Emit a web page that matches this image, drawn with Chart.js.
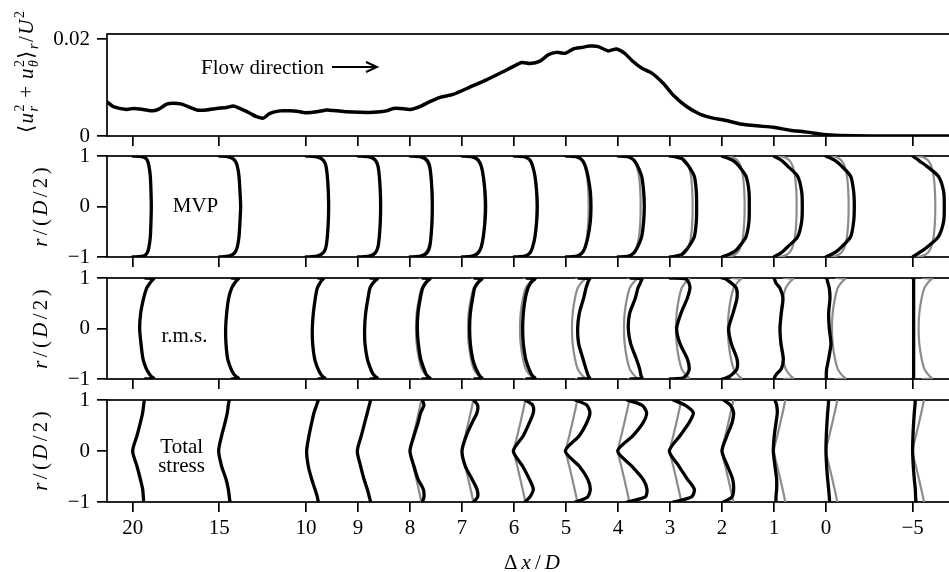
<!DOCTYPE html>
<html>
<head>
<meta charset="utf-8">
<script src="https://cdn.jsdelivr.net/npm/chart.js@4.4.1/dist/chart.umd.min.js"></script>
<style>
  html, body { margin: 0; padding: 0; background: #fff; overflow: hidden; }
  #wrap { position: relative; width: 949px; height: 572px; overflow: hidden; }
  canvas { position: absolute; left: 0; top: 0; }
</style>
</head>
<body>
<div id="wrap">
  <canvas id="c1" width="958" height="572"></canvas>
  <canvas id="c2" width="958" height="572"></canvas>
  <canvas id="c3" width="958" height="572"></canvas>
  <canvas id="c4" width="958" height="572"></canvas>
</div>
<script>
// x positions (Δx/D) of the ticks and of the profile stations
const X_TICKS = [20, 15, 10, 9, 8, 7, 6, 5, 4, 3, 2, 1, 0, -5];
const STATIONS = [20, 15, 10, 9, 8, 7, 6, 5, 4, 3, 2, 1, 0, -5];
const GREY_STATIONS = [8, 7, 6, 5, 4, 3, 2, 1, 0, -5];

// top panel: <u_r^2 + u_theta^2>_r / U^2
const TOP_DX = [21.5, 21.12, 20.35, 19.96, 19.39, 18.81, 18.42, 18.04, 17.65, 17.17, 16.69, 16.31, 15.73, 15.15,
  14.58, 14.19, 13.81, 13.23, 12.85, 12.46, 12.08, 11.5, 10.92, 10.35, 9.99, 9.79, 9.6, 9.41, 9.22, 8.96, 8.71,
  8.45, 8.32, 8.19, 8.0, 7.81, 7.62, 7.42, 7.17, 6.85, 6.53, 6.21, 6.01, 5.85, 5.69, 5.5, 5.34, 5.18, 5.02, 4.86,
  4.7, 4.54, 4.38, 4.19, 4.03, 3.87, 3.71, 3.54, 3.35, 3.13, 2.94, 2.68, 2.42, 2.17, 1.91, 1.65, 1.33, 1.01, 0.69,
  0.37, 0.05, -0.81, -2.54, -4.46, -7.1];
const TOP_E = [0.0071, 0.0061, 0.0055, 0.0057, 0.0055, 0.0052, 0.0057, 0.0066, 0.0068, 0.0066, 0.0059, 0.0054,
  0.0054, 0.0057, 0.0059, 0.0062, 0.0057, 0.0047, 0.0040, 0.0037, 0.0047, 0.0052, 0.0052, 0.0050, 0.0048, 0.0050,
  0.0054, 0.0052, 0.0050, 0.0049, 0.0049, 0.0052, 0.0057, 0.0057, 0.0055, 0.0061, 0.0071, 0.0080, 0.0086, 0.0101,
  0.0116, 0.0133, 0.0144, 0.0152, 0.0150, 0.0155, 0.0168, 0.0173, 0.0171, 0.0180, 0.0183, 0.0186, 0.0185, 0.0176,
  0.0180, 0.0171, 0.0154, 0.0140, 0.0130, 0.0109, 0.0085, 0.0061, 0.0045, 0.0037, 0.0032, 0.0025, 0.0021, 0.0018,
  0.0012, 0.0008, 0.0003, 0.0001, 0, 0, 0];
const TOP_Y_TICKS = [0, 0.02];
const TOP_Y_LABELS = ['0', '0.02'];

// radial positions r/(D/2)
const R_PROFILE = [1, 0.985, 0.95, 0.9, 0.8, 0.6, 0.3, 0, -0.3, -0.6, -0.8, -0.9, -0.95, -0.985, -1];
const R_STRESS = [1, 0.9, 0.75, 0.55, 0.3, 0, -0.3, -0.55, -0.75, -0.9, -1];
const R_TICKS = [-1, 0, 1];

// mean velocity profiles, one row per station
const MVP_REF = [0, 0.26, 0.39, 0.48, 0.56, 0.63, 0.67, 0.68, 0.67, 0.63, 0.56, 0.48, 0.39, 0.26, 0];
const MVP = [
  [0, 0.30, 0.40, 0.45, 0.49, 0.53, 0.55, 0.56, 0.55, 0.53, 0.49, 0.45, 0.40, 0.30, 0],
  [0, 0.27, 0.40, 0.48, 0.54, 0.59, 0.62, 0.64, 0.62, 0.59, 0.54, 0.48, 0.40, 0.27, 0],
  [0, 0.32, 0.45, 0.54, 0.60, 0.64, 0.67, 0.68, 0.67, 0.64, 0.60, 0.54, 0.45, 0.32, 0],
  [0, 0.33, 0.46, 0.54, 0.60, 0.64, 0.67, 0.68, 0.67, 0.64, 0.60, 0.54, 0.46, 0.33, 0],
  [0, 0.32, 0.45, 0.53, 0.59, 0.63, 0.66, 0.67, 0.66, 0.63, 0.59, 0.53, 0.45, 0.32, 0],
  [0, 0.30, 0.43, 0.51, 0.58, 0.64, 0.69, 0.71, 0.69, 0.64, 0.58, 0.51, 0.43, 0.30, 0],
  [0, 0.33, 0.43, 0.50, 0.56, 0.63, 0.68, 0.70, 0.68, 0.63, 0.56, 0.50, 0.43, 0.33, 0],
  [0, 0.33, 0.43, 0.51, 0.58, 0.66, 0.73, 0.75, 0.73, 0.66, 0.58, 0.51, 0.43, 0.33, 0],
  [0, 0.32, 0.42, 0.50, 0.59, 0.71, 0.77, 0.79, 0.77, 0.71, 0.59, 0.50, 0.42, 0.32, 0],
  [0, 0.15, 0.35, 0.43, 0.56, 0.73, 0.79, 0.80, 0.79, 0.73, 0.56, 0.43, 0.35, 0.15, 0],
  [0, 0.05, 0.20, 0.36, 0.51, 0.72, 0.81, 0.82, 0.81, 0.72, 0.51, 0.36, 0.20, 0.05, 0],
  [0, 0.03, 0.13, 0.25, 0.41, 0.71, 0.83, 0.85, 0.83, 0.71, 0.41, 0.25, 0.13, 0.03, 0],
  [0, 0.04, 0.16, 0.30, 0.47, 0.74, 0.83, 0.85, 0.83, 0.74, 0.47, 0.30, 0.16, 0.04, 0],
  [0, 0.03, 0.11, 0.21, 0.42, 0.77, 0.93, 0.95, 0.93, 0.77, 0.44, 0.23, 0.12, 0.03, 0]
];

// r.m.s. profiles
const RMS_REF = [0.3, 0.58, 0.52, 0.45, 0.35, 0.27, 0.20, 0.18, 0.20, 0.27, 0.35, 0.45, 0.52, 0.58, 0.3];
const RMS = [
  [0.38, 0.63, 0.58, 0.52, 0.42, 0.33, 0.24, 0.21, 0.25, 0.31, 0.41, 0.50, 0.56, 0.63, 0.38],
  [0.38, 0.57, 0.52, 0.46, 0.37, 0.28, 0.22, 0.19, 0.20, 0.25, 0.35, 0.43, 0.50, 0.57, 0.38],
  [0.38, 0.52, 0.47, 0.42, 0.34, 0.28, 0.22, 0.19, 0.20, 0.26, 0.36, 0.44, 0.50, 0.57, 0.38],
  [0.38, 0.58, 0.52, 0.45, 0.36, 0.30, 0.23, 0.20, 0.21, 0.28, 0.38, 0.45, 0.52, 0.58, 0.38],
  [0.38, 0.60, 0.54, 0.47, 0.38, 0.31, 0.24, 0.22, 0.25, 0.32, 0.42, 0.48, 0.54, 0.60, 0.38],
  [0.38, 0.60, 0.54, 0.47, 0.38, 0.32, 0.25, 0.23, 0.25, 0.32, 0.42, 0.50, 0.55, 0.60, 0.38],
  [0.38, 0.63, 0.57, 0.50, 0.42, 0.34, 0.28, 0.26, 0.28, 0.35, 0.45, 0.52, 0.58, 0.63, 0.38],
  [0.38, 0.71, 0.68, 0.65, 0.60, 0.53, 0.40, 0.35, 0.38, 0.51, 0.60, 0.65, 0.68, 0.71, 0.38],
  [0.38, 0.72, 0.70, 0.67, 0.60, 0.52, 0.35, 0.31, 0.38, 0.55, 0.65, 0.68, 0.70, 0.72, 0.38],
  [0, 0.47, 0.52, 0.57, 0.60, 0.52, 0.33, 0.20, 0.30, 0.52, 0.58, 0.52, 0.45, 0.38, 0],
  [0, 0.10, 0.18, 0.28, 0.43, 0.45, 0.33, 0.20, 0.28, 0.45, 0.45, 0.32, 0.22, 0.10, 0],
  [0, 0.01, 0.03, 0.06, 0.18, 0.27, 0.22, 0.18, 0.21, 0.28, 0.22, 0.08, 0.03, 0.01, 0],
  [0, 0.03, 0.04, 0.06, 0.10, 0.12, 0.08, 0.10, 0.15, 0.08, 0.02, 0.01, 0.01, 0.01, 0],
  [0, 0.03, 0.03, 0.03, 0.03, 0.03, 0.03, 0.03, 0.03, 0.03, 0.03, 0.03, 0.03, 0.03, 0]
];

// total stress profiles
const TS_REF = [0.34, 0.31, 0.26, 0.19, 0.10, 0, 0.10, 0.19, 0.26, 0.31, 0.34];
const TS = [
  [0.35, 0.33, 0.30, 0.23, 0.13, 0, 0.13, 0.23, 0.30, 0.32, 0.33],
  [0.30, 0.27, 0.24, 0.17, 0.07, -0.02, 0.07, 0.20, 0.27, 0.30, 0.32],
  [0.37, 0.32, 0.24, 0.17, 0.09, 0.02, 0.07, 0.17, 0.27, 0.34, 0.37],
  [0.38, 0.34, 0.28, 0.20, 0.10, -0.02, 0.08, 0.18, 0.28, 0.34, 0.38],
  [0.37, 0.42, 0.32, 0.24, 0.12, 0, 0.12, 0.24, 0.40, 0.42, 0.37],
  [0.35, 0.47, 0.45, 0.30, 0.13, 0, 0.10, 0.30, 0.45, 0.47, 0.35],
  [0.33, 0.56, 0.58, 0.46, 0.28, -0.02, 0.26, 0.46, 0.58, 0.48, 0.33],
  [0.28, 0.62, 0.72, 0.62, 0.40, -0.02, 0.40, 0.65, 0.73, 0.65, 0.28],
  [0.27, 0.72, 0.86, 0.75, 0.45, -0.01, 0.42, 0.75, 0.87, 0.82, 0.27],
  [0.10, 0.45, 0.70, 0.57, 0.30, -0.02, 0.27, 0.52, 0.73, 0.65, 0.10],
  [0.05, 0.25, 0.35, 0.30, 0.15, 0, 0.17, 0.32, 0.35, 0.30, 0.05],
  [0.03, 0.08, 0.10, 0.06, 0.01, -0.02, 0.03, 0.08, 0.08, 0.06, 0.06],
  [0.08, 0.07, 0.05, 0.03, 0.01, 0, 0.02, 0.05, 0.08, 0.10, 0.11],
  [0.08, 0.07, 0.05, 0.03, 0.01, 0, 0.02, 0.05, 0.08, 0.09, 0.10]
];

const PROFILE_SCALE = 0.641;   // axis units per profile unit (profiles grow downstream, to the right)
const X_LEFT = 21.48, X_RIGHT = -7.56;
const SERIF = "'Liberation Serif', 'Times New Roman', serif";
const GREY = '#8c8c8c';
const AXIS_W = 1.7;

// the axis is compressed 3:1 outside 0..10
function toAxis(dx) {
  if (dx > 10) return 10 + (dx - 10) / 3;
  if (dx < 0) return dx / 3;
  return dx;
}
function fmt(v) { return v < 0 ? '\u2212' + Math.abs(v) : String(v); }
function fnt(size, it) { return (it ? 'italic ' : '') + size + 'px ' + SERIF; }

function partWidth(ctx, p) {
  if (p.sup != null || p.sub != null) {
    let w = 0;
    if (p.sup != null) { ctx.font = fnt(14, p.supIt); w = Math.max(w, ctx.measureText(p.sup).width); }
    if (p.sub != null) { ctx.font = fnt(14, p.subIt); w = Math.max(w, ctx.measureText(p.sub).width); }
    return w;
  }
  ctx.font = fnt(21, p.it);
  return ctx.measureText(p.t).width;
}
function drawRich(ctx, parts, x, y, gap, rotate) {
  ctx.save();
  ctx.translate(x, y);
  if (rotate) ctx.rotate(-Math.PI / 2);
  const widths = parts.map(p => partWidth(ctx, p));
  const total = widths.reduce((a, b) => a + b, 0) + gap * (parts.length - 1);
  let cx = -total / 2;
  ctx.fillStyle = '#000';
  ctx.textAlign = 'left';
  ctx.textBaseline = 'alphabetic';
  parts.forEach((p, i) => {
    if (p.sup != null || p.sub != null) {
      if (p.sup != null) { ctx.font = fnt(14, p.supIt); ctx.fillText(p.sup, cx, -9); }
      if (p.sub != null) { ctx.font = fnt(14, p.subIt); ctx.fillText(p.sub, cx, 5); }
    } else {
      ctx.font = fnt(21, p.it);
      ctx.fillText(p.t, cx, 0);
    }
    cx += widths[i] + gap;
  });
  ctx.restore();
}
function text(ctx, str, x, y, align) {
  ctx.save();
  ctx.font = fnt(21, false);
  ctx.fillStyle = '#000';
  ctx.textAlign = align || 'center';
  ctx.textBaseline = 'alphabetic';
  ctx.fillText(str, x, y);
  ctx.restore();
}

const R_LABEL = [{t: 'r', it: 1}, {t: '/'}, {t: '('}, {t: 'D', it: 1}, {t: '/'}, {t: '2'}, {t: ')'}];
const TOP_LABEL = [{t: '\u27E8'}, {t: 'u', it: 1}, {sup: '2', sub: 'r', subIt: 1}, {t: ' + '}, {t: 'u', it: 1},
  {sup: '2', sub: '\u03B8', subIt: 1}, {t: '\u27E9'}, {sub: 'r', subIt: 1}, {t: '/'}, {t: 'U', it: 1}, {sup: '2'}];

const framePlugin = {
  id: 'frame',
  beforeDatasetsDraw(chart) {
    const { ctx, chartArea: a } = chart;
    ctx.save();
    ctx.strokeStyle = '#000';
    ctx.lineWidth = AXIS_W;
    ctx.strokeRect(a.left, a.top, a.right - a.left, a.bottom - a.top);
    ctx.restore();
  }
};

function profileSets(rs, ref, rows) {
  const sets = [];
  STATIONS.forEach((st, k) => {
    const x0 = toAxis(st);
    if (GREY_STATIONS.includes(st)) {
      sets.push({
        data: rs.map((r, i) => ({ x: x0 - ref[i] * PROFILE_SCALE, y: r })),
        showLine: true, borderColor: GREY, borderWidth: 2.2, order: 1
      });
    }
    sets.push({
      data: rs.map((r, i) => ({ x: x0 - rows[k][i] * PROFILE_SCALE, y: r })),
      showLine: true, borderColor: '#000', borderWidth: 3.3, order: 0
    });
  });
  return sets;
}

function makeChart(id, top, bottom, datasets, yMin, yMax, yTicks, yLabels, showX, extra) {
  return new Chart(document.getElementById(id), {
    type: 'scatter',
    data: { datasets },
    options: {
      responsive: false,
      animation: false,
      devicePixelRatio: 1,
      layout: { padding: { top: top, right: 1, left: 0, bottom: 0 } },
      plugins: { legend: { display: false }, tooltip: { enabled: false } },
      elements: {
        point: { radius: 0 },
        line: { tension: 0.25, fill: false, borderCapStyle: 'round', borderJoinStyle: 'round' }
      },
      scales: {
        x: {
          type: 'linear', reverse: true, min: toAxis(X_RIGHT), max: toAxis(X_LEFT),
          afterBuildTicks: s => { s.ticks = X_TICKS.map(v => ({ value: toAxis(v) })); },
          afterFit: s => { s.height = 572 - bottom; },
          grid: { drawOnChartArea: false, drawTicks: true, tickLength: 10, color: '#000', lineWidth: AXIS_W },
          border: { display: false },
          ticks: {
            display: showX, padding: 4, color: '#000', autoSkip: false, maxRotation: 0,
            font: { family: SERIF, size: 21 },
            callback: (v, i) => fmt(X_TICKS[i])
          }
        },
        y: {
          type: 'linear', min: yMin, max: yMax,
          afterBuildTicks: s => { s.ticks = yTicks.map(v => ({ value: v })); },
          afterFit: s => { s.width = 107; },
          grid: { drawOnChartArea: false, drawTicks: true, tickLength: 10, color: '#000', lineWidth: AXIS_W },
          border: { display: false },
          ticks: {
            padding: 7, color: '#000', font: { family: SERIF, size: 21 },
            callback: (v, i) => yLabels[i]
          }
        }
      }
    },
    plugins: [framePlugin, { id: 'notes', afterDraw: chart => extra(chart.ctx, chart) }]
  });
}

const rLabels = R_TICKS.map(fmt);

makeChart('c1', 34, 136, [{
  data: TOP_DX.map((d, i) => ({ x: toAxis(d), y: TOP_E[i] })),
  showLine: true, borderColor: '#000', borderWidth: 3.5, tension: 0.2
}], 0, 0.0211, TOP_Y_TICKS, TOP_Y_LABELS, false, ctx => {
  drawRich(ctx, TOP_LABEL, 33, 72, 1.5, true);
  text(ctx, 'Flow direction', 201, 74, 'left');
  ctx.save();
  ctx.strokeStyle = '#000';
  ctx.lineWidth = 2;
  ctx.beginPath();
  ctx.moveTo(332, 67); ctx.lineTo(376, 67);
  ctx.moveTo(366, 62); ctx.lineTo(377, 67); ctx.lineTo(366, 72);
  ctx.stroke();
  ctx.restore();
});

makeChart('c2', 156, 257, profileSets(R_PROFILE, MVP_REF, MVP), -1, 1, R_TICKS, rLabels, false, ctx => {
  drawRich(ctx, R_LABEL, 47, 207, 3.3, true);
  text(ctx, 'MVP', 195.5, 212);
});

makeChart('c3', 278, 379, profileSets(R_PROFILE, RMS_REF, RMS), -1, 1, R_TICKS, rLabels, false, ctx => {
  drawRich(ctx, R_LABEL, 47, 329, 3.3, true);
  text(ctx, 'r.m.s.', 184.5, 342);
});

makeChart('c4', 400, 502, profileSets(R_STRESS, TS_REF, TS), -1, 1, R_TICKS, rLabels, true, ctx => {
  drawRich(ctx, R_LABEL, 47, 451, 3.3, true);
  text(ctx, 'Total', 181.7, 452.5);
  text(ctx, 'stress', 181.5, 471.7);
  drawRich(ctx, [{t: '\u0394'}, {t: 'x', it: 1}, {t: '/'}, {t: 'D', it: 1}], 532, 569, 4, false);
});
</script>
</body>
</html>
